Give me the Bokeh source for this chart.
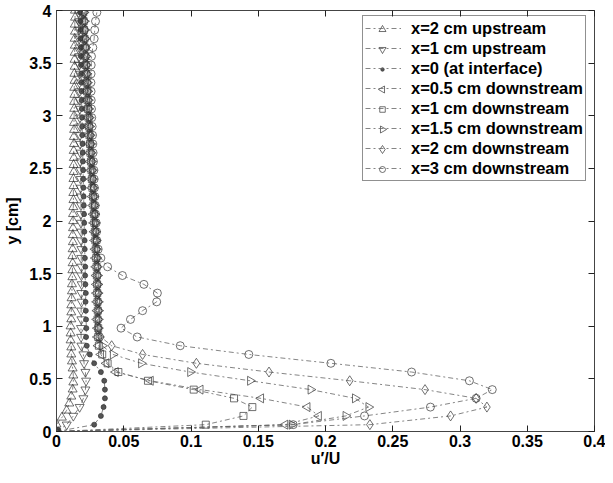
import numpy as np
from bokeh.plotting import figure
from bokeh.models import (Legend, LegendItem, LinearAxis, FixedTicker, CustomJSTickFormatter,
                          Range1d, ColumnDataSource)
from bokeh.embed import file_html
from bokeh.resources import INLINE

# ---- data ----
Y_T = [0.067, 0.133, 0.2, 0.267, 0.333, 0.4, 0.467, 0.533, 0.6, 0.667, 0.733, 0.8, 0.867, 0.933, 1.0,
       1.067, 1.133, 1.2, 1.267, 1.333, 1.4, 1.467, 1.533, 1.6, 1.667, 1.733, 1.8, 1.867, 1.933, 2.0,
       2.067, 2.133, 2.2, 2.267, 2.333, 2.4, 2.467, 2.533, 2.6, 2.667, 2.733, 2.8, 2.867, 2.933, 3.0,
       3.067, 3.133, 3.2, 3.267, 3.333, 3.4, 3.467, 3.533, 3.6, 3.667, 3.733, 3.8, 3.867, 3.933, 4.0]
X_UP2 = [0.0, 0.004, 0.0075, 0.0095, 0.011, 0.012, 0.0125, 0.0125, 0.012, 0.0115, 0.011, 0.011, 0.0105, 0.0105, 0.0105,
         0.011, 0.011, 0.011, 0.0112, 0.0115, 0.0115, 0.0118, 0.0118, 0.012, 0.0118, 0.012, 0.0122, 0.0121, 0.0123, 0.0124,
         0.0123, 0.0125, 0.0126, 0.0125, 0.0127, 0.0126, 0.0128, 0.0127, 0.0129, 0.0128, 0.013, 0.0129, 0.0131, 0.013, 0.0131,
         0.0132, 0.0131, 0.0133, 0.0132, 0.0134, 0.0133, 0.0135, 0.0134, 0.0135, 0.0136, 0.0135, 0.0137, 0.0136, 0.0138, 0.0137]

Y_G = [0.0, 0.065, 0.148, 0.232, 0.315, 0.398, 0.482, 0.565, 0.648, 0.732, 0.815, 0.898, 0.982,
       1.065, 1.148, 1.232, 1.315, 1.398, 1.482, 1.565, 1.648, 1.732, 1.815, 1.898, 1.982,
       2.065, 2.148, 2.232, 2.315, 2.398, 2.482, 2.565, 2.648, 2.732, 2.815, 2.898, 2.982,
       3.065, 3.148, 3.232, 3.315, 3.398, 3.482, 3.565, 3.648, 3.732, 3.815, 3.898, 3.982]
X_UP1 = [0.0, 0.0076, 0.0125, 0.0172, 0.020, 0.0215, 0.022, 0.0215, 0.0205, 0.020, 0.0185, 0.0183, 0.0182,
         0.0185, 0.0183, 0.0186, 0.0184, 0.0187, 0.0185, 0.0186, 0.0184, 0.0185, 0.0183, 0.0184, 0.0182,
         0.0181, 0.0182, 0.018, 0.0179, 0.018, 0.0178, 0.0177, 0.0178, 0.0176, 0.0175, 0.0176, 0.0174,
         0.0173, 0.0174, 0.0172, 0.0171, 0.0172, 0.017, 0.0169, 0.017, 0.0168, 0.0167, 0.0168, 0.0166]
X_INT = [0.0, 0.028, 0.033, 0.035, 0.036, 0.036, 0.0355, 0.033, 0.028, 0.0248, 0.0225, 0.022, 0.0222,
         0.022, 0.0218, 0.0216, 0.0218, 0.0215, 0.0213, 0.0214, 0.0211, 0.021, 0.0209, 0.0207, 0.0206,
         0.0205, 0.0203, 0.0202, 0.020, 0.0199, 0.0198, 0.0196, 0.0195, 0.0194, 0.0192, 0.0191, 0.019,
         0.0188, 0.0187, 0.0186, 0.0185, 0.0183, 0.0182, 0.0181, 0.018, 0.0179, 0.0178, 0.0177, 0.0176]
X_DN05 = [0.0, 0.170, 0.195, 0.1865, 0.152, 0.107, 0.070, 0.044, 0.037, 0.033, 0.031, 0.0305, 0.0305,
          0.030, 0.0302, 0.030, 0.0298, 0.0297, 0.0295, 0.0293, 0.029, 0.0287, 0.0284, 0.028, 0.0277,
          0.0273, 0.027, 0.0266, 0.0262, 0.0258, 0.0255, 0.0251, 0.0247, 0.0244, 0.024, 0.0236, 0.0233,
          0.0229, 0.0226, 0.0222, 0.0219, 0.0216, 0.0212, 0.0209, 0.0206, 0.0203, 0.020, 0.0197, 0.0194]
X_DN1 = [0.0, 0.111, 0.139, 0.1456, 0.132, 0.102, 0.068, 0.046, 0.038, 0.034, 0.0315, 0.031, 0.031,
         0.0305, 0.0307, 0.0305, 0.0303, 0.0302, 0.030, 0.0298, 0.0295, 0.0292, 0.0289, 0.0285, 0.0282,
         0.0278, 0.0275, 0.0271, 0.0267, 0.0263, 0.026, 0.0256, 0.0252, 0.0249, 0.0245, 0.0241, 0.0238,
         0.0234, 0.0231, 0.0227, 0.0224, 0.0221, 0.0217, 0.0214, 0.0211, 0.0208, 0.0205, 0.0202, 0.0199]
X_DN15 = [0.0, 0.175, 0.215, 0.232, 0.222, 0.189, 0.144, 0.0995, 0.063, 0.042, 0.034, 0.0315, 0.031,
          0.031, 0.0312, 0.031, 0.0308, 0.0307, 0.0305, 0.0303, 0.030, 0.0297, 0.0294, 0.029, 0.0287,
          0.0283, 0.028, 0.0276, 0.0272, 0.0268, 0.0265, 0.0261, 0.0257, 0.0254, 0.025, 0.0246, 0.0243,
          0.0239, 0.0236, 0.0232, 0.0229, 0.0226, 0.0222, 0.0219, 0.0216, 0.0213, 0.021, 0.0207, 0.0204]
X_DN2 = [0.0, 0.233, 0.293, 0.320, 0.312, 0.274, 0.218, 0.158, 0.104, 0.064, 0.041, 0.033, 0.0315,
         0.0315, 0.0317, 0.0315, 0.0313, 0.0312, 0.031, 0.0308, 0.0305, 0.0302, 0.0299, 0.0295, 0.0292,
         0.0288, 0.0285, 0.0281, 0.0277, 0.0273, 0.027, 0.0266, 0.0262, 0.0259, 0.0255, 0.0251, 0.0248,
         0.0244, 0.0241, 0.0237, 0.0234, 0.0231, 0.0227, 0.0224, 0.0221, 0.0218, 0.0215, 0.0212, 0.0209]
X_DN3 = [0.0, 0.176, 0.229, 0.278, 0.312, 0.324, 0.307, 0.264, 0.204, 0.143, 0.092, 0.060, 0.048,
         0.055, 0.064, 0.0745, 0.075, 0.065, 0.049, 0.038, 0.033, 0.031, 0.030, 0.0298, 0.0295,
         0.029, 0.0288, 0.0285, 0.0282, 0.028, 0.0278, 0.0275, 0.0272, 0.027, 0.0268, 0.0265, 0.0262,
         0.026, 0.0258, 0.0257, 0.0256, 0.0257, 0.0258, 0.026, 0.027, 0.028, 0.0284, 0.029, 0.030]

LABELS = ["x=2 cm upstream", "x=1 cm upstream", "x=0 (at interface)", "x=0.5 cm downstream",
          "x=1 cm downstream", "x=1.5 cm downstream", "x=2 cm downstream", "x=3 cm downstream"]
X_TICKS = [0, 0.05, 0.1, 0.15, 0.2, 0.25, 0.3, 0.35, 0.4]
X_TICK_LABELS = ["0", "0.05", "0.1", "0.15", "0.2", "0.25", "0.3", "0.35", "0.4"]
Y_TICKS = [0, 0.5, 1, 1.5, 2, 2.5, 3, 3.5, 4]
Y_TICK_LABELS = ["0", "0.5", "1", "1.5", "2", "2.5", "3", "3.5", "4"]

FONT = "Liberation Sans"
FRAME_W, FRAME_H = 538, 421

p = figure(frame_width=FRAME_W, frame_height=FRAME_H, x_range=Range1d(0, 0.4), y_range=Range1d(0, 4),
           output_backend="svg", toolbar_location=None,
           min_border_left=56, min_border_right=11, min_border_top=10, min_border_bottom=20,
           background_fill_color="white", border_fill_color="white")
p.grid.visible = False
p.outline_line_color = "#444444"
p.outline_line_width = 1

for ax, ticks, labels in ((p.xaxis[0], X_TICKS, X_TICK_LABELS), (p.yaxis[0], Y_TICKS, Y_TICK_LABELS)):
    ax.ticker = FixedTicker(ticks=ticks)
    ax.major_label_overrides = {t: l for t, l in zip(ticks, labels)}
    ax.major_tick_in = 6
    ax.major_tick_out = 0
    ax.minor_tick_line_color = None
    ax.axis_line_color = "#444444"
    ax.major_tick_line_color = "#222222"
    ax.major_label_text_font = FONT
    ax.major_label_text_font_style = "bold"
    ax.major_label_text_font_size = "16px"
    ax.major_label_text_color = "black"
    ax.axis_label_text_font = FONT
    ax.axis_label_text_font_style = "bold"
    ax.axis_label_text_font_size = "16px"
    ax.axis_label_text_color = "black"

p.xaxis.axis_label = "u′/U"
p.yaxis.axis_label = "y [cm]"
p.xaxis.major_label_standoff = 3
p.xaxis.axis_label_standoff = 0
p.yaxis.major_label_standoff = 5
p.yaxis.axis_label_standoff = 5

blank = CustomJSTickFormatter(code="return ''")
for loc, ticks in (("above", X_TICKS), ("right", Y_TICKS)):
    ax = LinearAxis(ticker=FixedTicker(ticks=ticks), formatter=blank,
                    major_tick_in=6, major_tick_out=0, minor_tick_line_color=None,
                    axis_line_color=None, major_tick_line_color="#222222",
                    major_label_standoff=0, major_label_text_font_size="1px")
    p.add_layout(ax, loc)

# marker styles per series: (marker, angle, size in plot, size in legend)
STYLE = [
    ("triangle", 0.0, 9, 7),
    ("inverted_triangle", 0.0, 9, 7),
    ("circle", 0.0, 5, 3.5),
    ("triangle", np.pi / 2, 9, 7),
    ("square", 0.0, 7, 5.5),
    ("triangle", -np.pi / 2, 9, 7),
    ("diamond", 0.0, 10, 8),
    ("circle", 0.0, 8, 6),
]
SERIES = [(X_UP2, Y_T), (X_UP1, Y_G), (X_INT, Y_G), (X_DN05, Y_G),
          (X_DN1, Y_G), (X_DN15, Y_G), (X_DN2, Y_G), (X_DN3, Y_G)]
FILLED = [lab.startswith("x=0 (") for lab in LABELS]

LINE_KW = dict(line_color="#666666", line_width=0.8, line_dash="5 3 2 3")
items = []
for (xs, ys), (mk, ang, sz, _), lab, filled in zip(SERIES, STYLE, LABELS, FILLED):
    rl = p.line(xs, ys, **LINE_KW)
    p.scatter(xs, ys, marker=mk, size=sz, angle=ang, line_color="#333333",
              fill_color="#555555", fill_alpha=1.0 if filled else 0.0, line_width=0.7)
    items.append(LegendItem(label=lab, renderers=[rl]))

# legend layout (frame pixels, from the frame's bottom-left corner)
PAD, ROW_H, GLYPH_W, STANDOFF = 2, 20, 36, 10
LEG_LEFT, LEG_TOP = 306, FRAME_H - 7
LEG_H = 2 * PAD + ROW_H * len(LABELS)
legend = Legend(items=items, location=(LEG_LEFT, LEG_TOP - LEG_H),
                label_text_font=FONT, label_text_font_style="bold", label_text_font_size="16.5px",
                label_text_color="black",
                border_line_color="#222222", border_line_width=1, background_fill_alpha=0,
                padding=PAD, spacing=0, glyph_width=GLYPH_W, glyph_height=ROW_H, label_height=ROW_H,
                label_standoff=STANDOFF, margin=0)
p.add_layout(legend)

# legend sample markers (drawn in frame-pixel coordinates so they can be rotated)
p.extra_x_ranges = {"px": Range1d(0, FRAME_W)}
p.extra_y_ranges = {"py": Range1d(0, FRAME_H)}
leg_src = ColumnDataSource(dict(
    x=[LEG_LEFT + PAD + GLYPH_W / 2] * len(LABELS),
    y=[LEG_TOP - PAD - ROW_H * (i + 0.5) for i in range(len(LABELS))],
    marker=[s[0] for s in STYLE],
    angle=[s[1] for s in STYLE],
    size=[s[3] for s in STYLE],
    falpha=[1.0 if f else 0.0 for f in FILLED],
))
p.scatter("x", "y", source=leg_src, marker="marker", angle="angle", size="size",
          fill_color="#555555", fill_alpha="falpha", line_color="#333333", line_width=0.7,
          x_range_name="px", y_range_name="py")

open("out.html", "w").write(file_html(p, INLINE))
